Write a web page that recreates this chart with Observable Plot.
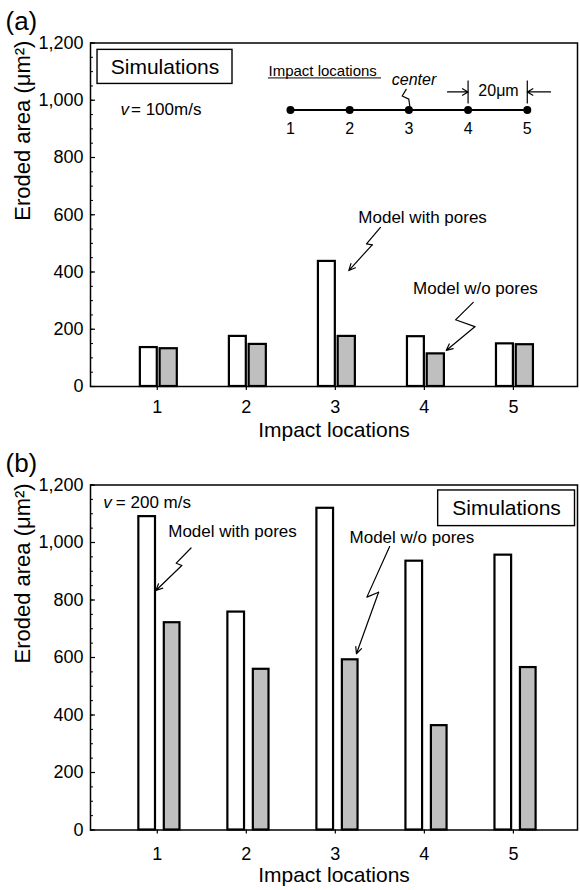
<!DOCTYPE html>
<html>
<head>
<meta charset="utf-8">
<script src="https://cdn.jsdelivr.net/npm/d3@7"></script>
<script src="https://cdn.jsdelivr.net/npm/@observablehq/plot@0.6"></script>
<style>
  body { margin: 0; background: #fff; }
  #chart { width: 580px; }
  #chart svg { display: block; }
</style>
</head>
<body>
<div id="chart"></div>
<script>
// Impact locations along the sample (1 … 5, location 3 is the center)
const locations = [1, 2, 3, 4, 5];

// Eroded area (µm²) at v = 100 m/s
const withPores100 = [136, 175, 437, 174, 149];
const withoutPores100 = [132, 147, 175, 114, 146];

// Eroded area (µm²) at v = 200 m/s
const withPores200 = [1090, 758, 1119, 935, 956];
const withoutPores200 = [721, 559, 592, 363, 565];

// Axis ticks
const yTicks = [0, 200, 400, 600, 800, 1000, 1200];
const yMinorTicks = d3.range(0, 1201, 50);

const font = "'Liberation Sans', Arial, Helvetica, sans-serif";
const ink = "black";
const poreFill = "white";
const densFill = "#bfbfbf";
const thousands = d3.format(",");

const rows = (values) => locations.map((loc, i) => ({loc, value: values[i]}));

// A zig-zag leader ending with an arrowhead: pts = [[x, y], ...]
function leader(pts) {
  const n = pts.length;
  return [
    Plot.line(pts.slice(0, n - 1), {x: (d) => d[0], y: (d) => d[1], stroke: ink, strokeWidth: 1.2}),
    Plot.arrow([pts.slice(n - 2)], {
      x1: (d) => d[0][0], y1: (d) => d[0][1], x2: (d) => d[1][0], y2: (d) => d[1][1],
      stroke: ink, strokeWidth: 1.2, headLength: 9, headAngle: 50
    })
  ];
}

function label(x, y, text, options = {}) {
  return Plot.text([{x, y, text}], {x: "x", y: "y", text: "text", fill: ink, fontSize: 17, ...options});
}

function box(x1, x2, y1, y2, text) {
  return [
    Plot.rect([{x1, x2, y1, y2}], {x1: "x1", x2: "x2", y1: "y1", y2: "y2", fill: "white", stroke: ink, strokeWidth: 1.4}),
    label((x1 + x2) / 2, (y1 + y2) / 2, text, {fontSize: 21})
  ];
}

function velocity(xv, xEq, y, rest) {
  return [
    label(xv, y, "v", {textAnchor: "start", fontStyle: "italic"}),
    label(xEq, y, rest, {textAnchor: "start"})
  ];
}

function panel({tag, height, marginBottom, withPores, withoutPores, offsets, tickPadding, titleDy, annotations}) {
  return Plot.plot({
    width: 580,
    height,
    marginTop: 42.5,
    marginLeft: 90,
    marginRight: 3,
    marginBottom,
    style: {fontFamily: font, fontSize: "18px", color: ink, background: "white", overflow: "visible"},
    x: {type: "linear", domain: [0.25, 5.72]},
    y: {domain: [0, 1200]},
    marks: [
      Plot.rectY(rows(withPores), {
        x1: (d) => d.loc + offsets.pores[0], x2: (d) => d.loc + offsets.pores[1], y: "value",
        fill: poreFill, stroke: ink, strokeWidth: 2.2
      }),
      Plot.rectY(rows(withoutPores), {
        x1: (d) => d.loc + offsets.dense[0], x2: (d) => d.loc + offsets.dense[1], y: "value",
        fill: densFill, stroke: ink, strokeWidth: 2.2
      }),
      ...annotations,
      Plot.frame({stroke: ink, strokeWidth: 1.5}),
      Plot.axisY({ticks: yTicks, tickSize: 0, tickPadding: 7, tickFormat: thousands, label: null, fontSize: 18}),
      Plot.axisY({ticks: yTicks, tickSize: -5, fill: "none", label: null, strokeWidth: 1.2}),
      Plot.axisY({ticks: yMinorTicks, tickSize: -3, fill: "none", label: null, strokeWidth: 1}),
      Plot.axisX({ticks: locations, tickSize: 4, tickPadding, tickFormat: (d) => String(d), label: null, fontSize: 18, strokeWidth: 1.2}),
      Plot.text(["Impact locations"], {frameAnchor: "bottom", dy: titleDy, lineAnchor: "middle", fontSize: 21, fill: ink}),
      Plot.text(["Eroded area (μm²)"], {frameAnchor: "left", dx: -68, dy: 6, rotate: -90, fontSize: 22, fill: ink}),
      Plot.text([tag], {frameAnchor: "top-left", dx: -85, dy: -21, textAnchor: "start", lineAnchor: "middle", fontSize: 26, fill: ink})
    ]
  });
}

// Inset sketch of the five impact points, 20 µm apart
const sketchX = (loc) => 2.496 + (loc - 1) * 0.665;
const sketchY = 966;
const sketch = [
  label(2.249, 1102, "Impact locations", {textAnchor: "start", fontSize: 15}),
  Plot.ruleY([1078], {x1: 2.249, x2: 3.519, stroke: ink, strokeWidth: 1}),
  Plot.ruleY([sketchY], {x1: sketchX(1), x2: sketchX(5), stroke: ink, strokeWidth: 2}),
  Plot.dot(locations, {x: sketchX, y: sketchY, r: 4, fill: ink}),
  Plot.text(locations, {x: sketchX, y: 900, text: (d) => String(d), fontSize: 16, fill: ink}),
  label(3.884, 1071, "center", {fontStyle: "italic", fontSize: 16}),
  Plot.line([[3.796, 1038], [3.751, 1015], [3.825, 1004], [3.836, 980]], {x: (d) => d[0], y: (d) => d[1], stroke: ink, strokeWidth: 1.2}),
  label(4.833, 1033, "20μm", {fontSize: 16}),
  Plot.ruleX([sketchX(4), sketchX(5)], {y1: 987, y2: 1067, stroke: ink, strokeWidth: 1.2}),
  Plot.arrow([{a: 4.26, b: sketchX(4)}, {a: 5.417, b: sketchX(5)}], {
    x1: "a", x2: "b", y1: 1029, y2: 1029, stroke: ink, strokeWidth: 1.2, headLength: 8, headAngle: 60
  })
];

const panelA = panel({
  tag: "(a)",
  height: 442,
  marginBottom: 56,
  withPores: withPores100,
  withoutPores: withoutPores100,
  offsets: {pores: [-0.19, 0], dense: [0.032, 0.225]},
  tickPadding: 10,
  titleDy: 44,
  annotations: [
    ...box(0.329, 1.845, 1057, 1176, "Simulations"),
    ...velocity(0.587, 0.705, 966, "= 100m/s"),
    ...sketch,
    label(3.98, 591, "Model with pores"),
    ...leader([[3.507, 556], [3.35, 498], [3.414, 495], [3.151, 405]]),
    label(4.574, 341, "Model w/o pores"),
    ...leader([[4.549, 294], [4.35, 233], [4.567, 209], [4.245, 126]])
  ]
});

const panelB = panel({
  tag: "(b)",
  height: 448,
  marginBottom: 60.5,
  withPores: withPores200,
  withoutPores: withoutPores200,
  offsets: {pores: [-0.207, -0.02], dense: [0.079, 0.255]},
  tickPadding: 13,
  titleDy: 45.5,
  annotations: [
    ...box(4.155, 5.692, 1057, 1181, "Simulations"),
    ...velocity(0.394, 0.535, 1140, "= 200 m/s"),
    label(1.845, 1039, "Model with pores"),
    ...leader([[1.379, 981], [1.213, 928], [1.275, 920], [0.985, 833]]),
    label(3.86, 1016, "Model w/o pores"),
    ...leader([[3.61, 986], [3.354, 810], [3.486, 827], [3.237, 613]])
  ]
});

const chart = document.getElementById("chart");
chart.append(panelA, panelB);
</script>
</body>
</html>
